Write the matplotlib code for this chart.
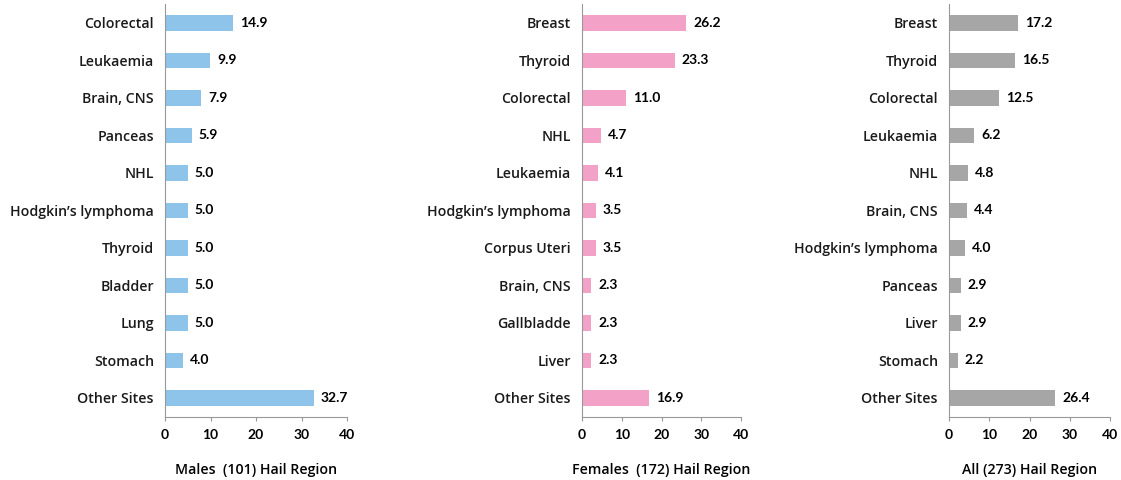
import matplotlib.pyplot as plt

# data, top to bottom
males_sites = ['Colorectal', 'Leukaemia', 'Brain, CNS', 'Panceas', 'NHL', "Hodgkin’s lymphoma",
               'Thyroid', 'Bladder', 'Lung', 'Stomach', 'Other Sites']
males_vals = [14.9, 9.9, 7.9, 5.9, 5.0, 5.0, 5.0, 5.0, 5.0, 4.0, 32.7]

females_sites = ['Breast', 'Thyroid', 'Colorectal', 'NHL', 'Leukaemia', "Hodgkin’s lymphoma",
                 'Corpus Uteri', 'Brain, CNS', 'Gallbladde', 'Liver', 'Other Sites']
females_vals = [26.2, 23.3, 11.0, 4.7, 4.1, 3.5, 3.5, 2.3, 2.3, 2.3, 16.9]

all_sites = ['Breast', 'Thyroid', 'Colorectal', 'Leukaemia', 'NHL', 'Brain, CNS',
             "Hodgkin’s lymphoma", 'Panceas', 'Liver', 'Stomach', 'Other Sites']
all_vals = [17.2, 16.5, 12.5, 6.2, 4.8, 4.4, 4.0, 2.9, 2.9, 2.2, 26.4]

titles = ['Males  (101) Hail Region', 'Females  (172) Hail Region', 'All (273) Hail Region']
xticks = [0, 10, 20, 30, 40]

panels = [
    (males_sites, males_vals, '#8EC3EA', [0.1472, 0.1318, 0.1624, 0.8594]),
    (females_sites, females_vals, '#F4A1C7', [0.5192, 0.1318, 0.1418, 0.8594]),
    (all_sites, all_vals, '#A6A6A6', [0.8466, 0.1318, 0.1436, 0.8594]),
]

fig = plt.figure(figsize=(11.21, 4.8), dpi=100)

for (sites, vals, col, rect), title in zip(panels, titles):
    ax = fig.add_axes(rect)
    pos = list(range(len(sites)))
    ax.barh(pos, vals, height=0.42, color=col)
    ax.set_ylim(len(sites) - 0.5, -0.5)
    ax.set_xlim(0, 40)
    ax.set_yticks(pos)
    ax.set_yticklabels(sites, family='Open Sans', fontsize=10.2, fontweight='semibold', color='#1a1a1a')
    ax.tick_params(axis='y', length=0, pad=8)
    ax.set_xticks(xticks)
    ax.set_xticklabels([str(t) for t in xticks], family='Lato', fontsize=10, fontweight='bold')
    ax.tick_params(axis='x', length=3, color='#999999', pad=6)
    for p, v in zip(pos, vals):
        ax.annotate(f'{v:.1f}', (v, p), xytext=(5, 0), textcoords='offset points',
                    va='center', ha='left', family='Lato', fontsize=10, fontweight='bold')
    for s in ['top', 'right']:
        ax.spines[s].set_visible(False)
    for s in ['left', 'bottom']:
        ax.spines[s].set_color('#999999')
    ax.set_xlabel(title, family='Open Sans', fontsize=10.2, fontweight='semibold', labelpad=16)

plt.savefig('out.png', dpi=100)
